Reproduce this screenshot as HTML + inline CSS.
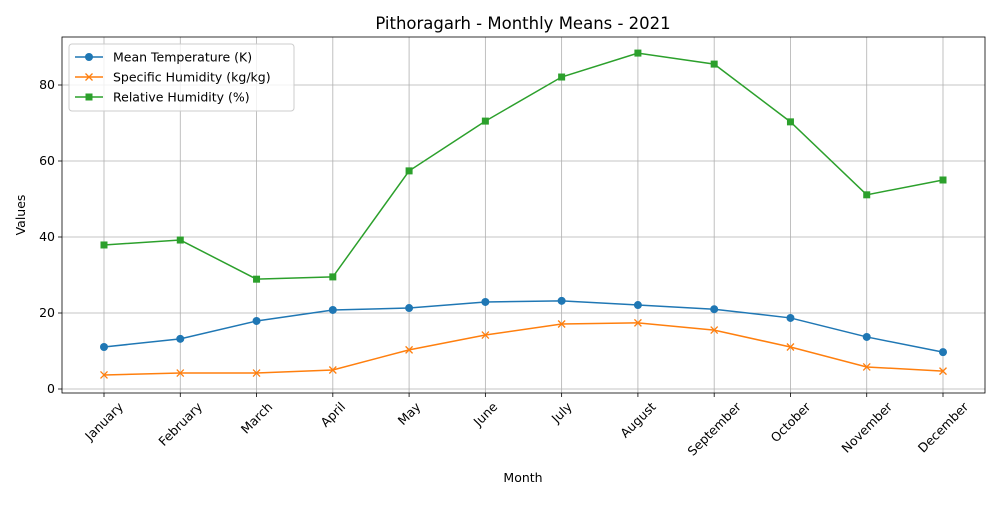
<!DOCTYPE html>
<html><head><meta charset="utf-8"><style>
body{margin:0;background:#fff;font-family:"Liberation Sans","DejaVu Sans",sans-serif}
svg text{font-family:"DejaVu Sans","Liberation Sans",sans-serif}
</style></head><body>
<svg id="c" width="1000" height="500" xmlns="http://www.w3.org/2000/svg"></svg>
<script>
const months=["January","February","March","April","May","June","July","August","September","October","November","December"];
const tempVals=[11.05,13.2,17.9,20.8,21.3,22.9,23.2,22.1,21.0,18.7,13.7,9.7];
const shVals=[3.7,4.2,4.2,5.0,10.3,14.2,17.1,17.4,15.5,11.05,5.8,4.7];
const rhVals=[37.9,39.2,28.9,29.5,57.4,70.5,82.1,88.4,85.5,70.3,51.1,55.0];
const yTicks=[0,20,40,60,80];
const seriesNames=["Mean Temperature (K)","Specific Humidity (kg/kg)","Relative Humidity (%)"];

const svg=document.getElementById('c');const NS="http://www.w3.org/2000/svg";
const L=62,R=985,T=37,B=393;
const x=i=>104+i*(943-104)/11;
const y=v=>389-v*3.8;
function mk(t,a,p){const e=document.createElementNS(NS,t);for(const k in a)e.setAttribute(k,a[k]);(p||svg).appendChild(e);return e;}
const title=mk('text',{x:523,y:29,'text-anchor':'middle','font-size':16.5,fill:'#000'});title.textContent="Pithoragarh - Monthly Means - 2021";


const grid=mk('g',{});


months.forEach((m,i)=>{mk('line',{x1:x(i),x2:x(i),y1:T,y2:B,stroke:'#b0b0b0','stroke-width':0.8},grid);
 mk('line',{x1:x(i),x2:x(i),y1:B,y2:B+4,stroke:'#000','stroke-width':0.8});
 const t=mk('text',{'font-size':12.5,'text-anchor':'middle','dominant-baseline':'central'});t.textContent=m;
 const w=t.getComputedTextLength();
 const cy=B+7+(w*0.707+12.5*0.707)/2;
 t.setAttribute('transform',`translate(${x(i)},${cy}) rotate(-45)`);
 
 });
yTicks.forEach(v=>{mk('line',{x1:L,x2:R,y1:y(v),y2:y(v),stroke:'#b0b0b0','stroke-width':0.8},grid);
 mk('line',{x1:L-4,x2:L,y1:y(v),y2:y(v),stroke:'#000','stroke-width':0.8});
 const t=mk('text',{x:L-7,y:y(v)+4,'font-size':12.5,'text-anchor':'end'});t.textContent=v;
 
 });
const frame=mk('rect',{x:L,y:T,width:R-L,height:B-T,fill:'none',stroke:'#000','stroke-width':0.8});


const xt=mk('text',{x:523,y:482,'font-size':12.5,'text-anchor':'middle'});xt.textContent="Month";


const yt=mk('text',{'font-size':12.5,'text-anchor':'middle',transform:'translate(25,215) rotate(-90)'});yt.textContent="Values";


const cols=['#1f77b4','#ff7f0e','#2ca02c'];
function marker(kind,cx,cy,c,p){
 if(kind==0)mk('circle',{cx,cy,r:4,fill:c},p);
 else if(kind==1){mk('path',{d:`M${cx-3.5},${cy-3.5}L${cx+3.5},${cy+3.5}M${cx-3.5},${cy+3.5}L${cx+3.5},${cy-3.5}`,stroke:c,'stroke-width':1.3},p);}
 else mk('rect',{x:cx-3.5,y:cy-3.5,width:7,height:7,fill:c},p);
}
[tempVals,shVals,rhVals].forEach((vals,k)=>{
 const g=mk('g',{});
 
 
 mk('polyline',{points:vals.map((v,i)=>x(i)+','+y(v)).join(' '),fill:'none',stroke:cols[k],'stroke-width':1.5},g);
 vals.forEach((v,i)=>marker(k,x(i),y(v),cols[k],g));
});
const lg=mk('g',{});


mk('rect',{x:69,y:44,width:225,height:67,rx:3,fill:'#fff','fill-opacity':0.8,stroke:'#ccc'},lg);
seriesNames.forEach((n,k)=>{const yy=57+k*20;
 const e=mk('g',{},lg);
 
 
 mk('line',{x1:75,x2:103,y1:yy,y2:yy,stroke:cols[k],'stroke-width':1.5},e);
 marker(k,89,yy,cols[k],e);
 const t=mk('text',{x:113,y:yy+4.5,'font-size':12.5},e);t.textContent=n;});
</script>
</body></html>
